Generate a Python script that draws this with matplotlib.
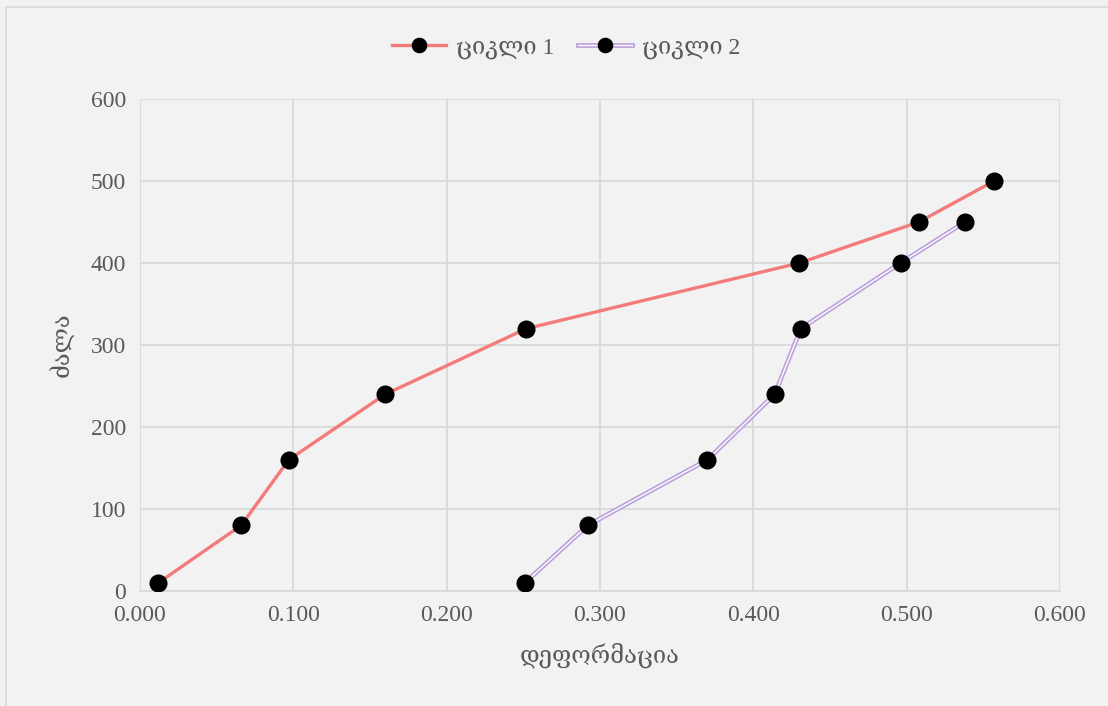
"""Load vs deformation for two loading cycles."""

import matplotlib.pyplot as plt
from matplotlib.patches import Rectangle
from matplotlib.legend_handler import HandlerTuple

# cycle 1
strain_1 = [0.012, 0.066, 0.097, 0.160, 0.252, 0.430, 0.508, 0.557]
load_1 = [10, 80, 160, 240, 320, 400, 450, 500]
# cycle 2
strain_2 = [0.251, 0.292, 0.370, 0.414, 0.431, 0.496, 0.538]
load_2 = [10, 80, 160, 240, 320, 400, 450]

labels = ["ციკლი 1", "ციკლი 2"]
x_label = "დეფორმაცია"
y_label = "ძალა"
x_ticks = [0.0, 0.1, 0.2, 0.3, 0.4, 0.5, 0.6]
y_ticks = [0, 100, 200, 300, 400, 500, 600]

BG = "#f2f2f2"
TEXT = "#595959"
RED = "#f47b7b"
PURPLE = "#bca0dc"
plt.rcParams["font.family"] = ["Liberation Serif", "DejaVu Serif"]

fig = plt.figure(figsize=(11.08, 7.06), dpi=100, facecolor=BG)
fig.patches.append(Rectangle((6 / 1108, -0.01), 1.02, 1 - 7 / 706 + 0.01,
                             transform=fig.transFigure, fill=False,
                             edgecolor="#d9d9d9", linewidth=1.2))
ax = fig.add_axes([140 / 1108, 1 - 591 / 706, 920 / 1108, 492 / 706])
ax.set_facecolor(BG)

mk = dict(marker="o", markersize=12, markerfacecolor="black",
          markeredgecolor="black")

h1, = ax.plot(strain_1, load_1, color=RED, linewidth=2.4, zorder=3, **mk)

# cycle 2 is a double line: wide purple with a thin white core
p2, = ax.plot(strain_2, load_2, color=PURPLE, linewidth=3.4, zorder=3)
w2, = ax.plot(strain_2, load_2, color="white", linewidth=1.0, zorder=3)
m2, = ax.plot(strain_2, load_2, linestyle="none", zorder=4, **mk)

ax.set_xlim(0, 0.6)
ax.set_ylim(0, 600)
ax.set_xticks(x_ticks)
ax.set_yticks(y_ticks)
ax.set_xticklabels([f"{v:.3f}" for v in x_ticks])
ax.grid(True, color="#d9d9d9", linewidth=1.3)
ax.set_axisbelow(True)
for side in ["left", "right", "top"]:
    ax.spines[side].set_visible(False)
ax.spines["bottom"].set_color("#d9d9d9")
ax.spines["bottom"].set_linewidth(1.3)
ax.tick_params(length=0, labelsize=17, colors=TEXT, pad=10)

ax.set_xlabel(x_label, fontsize=17, color=TEXT, labelpad=12)
ax.set_ylabel(y_label, fontsize=17, color=TEXT, labelpad=12)

leg = ax.legend([h1, (p2, w2, m2)], labels, loc="center",
                bbox_to_anchor=(0.463, 1.104), ncol=2, frameon=False,
                fontsize=17, labelcolor=TEXT, handlelength=2.3,
                columnspacing=1.0, handletextpad=0.4, markerscale=0.85,
                handler_map={tuple: HandlerTuple(ndivide=1, pad=0)})

fig.savefig("out.png", dpi=100, facecolor=BG)
